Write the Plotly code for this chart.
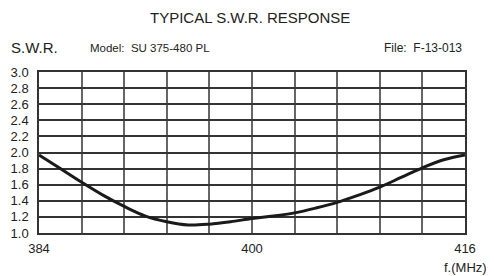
import plotly.graph_objects as go

freq = [384, 385.6, 387.2, 388.8, 390.4, 392, 393.6, 395.2, 396.8, 398.4, 400,
        401.6, 403.2, 404.8, 406.4, 408, 409.6, 411.2, 412.8, 414.4, 416]
swr = [1.97, 1.80, 1.63, 1.47, 1.33, 1.21, 1.14, 1.10, 1.11, 1.14, 1.18,
       1.21, 1.25, 1.31, 1.38, 1.47, 1.57, 1.69, 1.81, 1.91, 1.97]

x_grid = [384 + 3.2 * i for i in range(11)]
x_labels = ["384", "", "", "", "", "400", "", "", "", "", "416"]
y_ticks = [1.0, 1.2, 1.4, 1.6, 1.8, 2.0, 2.2, 2.4, 2.6, 2.8, 3.0]
y_labels = ["1.0", "1.2", "1.4", "1.6", "1.8", "2.0", "2.2", "2.4", "2.6", "2.8", "3.0"]

OFF = 8  # page body margin
W, H = 494 - OFF, 276 - OFF
L, R, T, B = 39 - OFF, 29, 72 - OFF, 43

fig = go.Figure()
fig.add_trace(go.Scatter(x=freq, y=swr, mode="lines",
                         line=dict(color="#1a1a1a", width=3, shape="spline", smoothing=1.0),
                         showlegend=False, hoverinfo="skip"))

font_main = "Liberation Sans, Arial, sans-serif"
fig.update_layout(
    width=W, height=H,
    margin=dict(l=L, r=R, t=T, b=B, pad=0, autoexpand=False),
    paper_bgcolor="white", plot_bgcolor="white",
    font=dict(family=font_main, color="#222"),
    xaxis=dict(range=[384, 416], tickvals=x_grid, ticktext=x_labels,
               showgrid=True, gridcolor="#666", gridwidth=1.5,
               showline=True, linecolor="#333", linewidth=1.5, mirror=True,
               zeroline=False, ticks="", ticklabelstandoff=3, automargin=False,
               tickfont=dict(size=13, color="#222")),
    yaxis=dict(range=[1.0, 3.0], tickvals=y_ticks, ticktext=y_labels,
               showgrid=True, gridcolor="#333", gridwidth=1.5,
               showline=True, linecolor="#333", linewidth=1.5, mirror=True,
               zeroline=False, ticks="", ticklabelstandoff=6, automargin=False,
               tickfont=dict(size=13, color="#222")),
)

texts = [
    ("TYPICAL S.W.R. RESPONSE", 250, 17, "center", 15),
    ("S.W.R.", 10, 48, "left", 15),
    ("Model:  SU 375-480 PL", 89, 48, "left", 11.5),
    ("File:  F-13-013", 463, 48, "right", 12),
    ("f.(MHz)", 488, 267, "right", 13),
]
pw = W - L - R
ph = H - T - B
for txt, px, py, anc, size in texts:
    fig.add_annotation(text=txt, x=(px - OFF - L) / pw, y=1 - (py - OFF - T) / ph,
                       xref="paper", yref="paper", xanchor=anc, yanchor="middle",
                       showarrow=False, borderpad=0,
                       font=dict(size=size, family=font_main, color="#222"))

fig.write_html("out.html")
